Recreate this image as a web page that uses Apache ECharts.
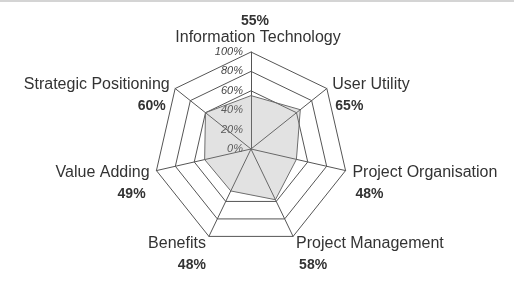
<!DOCTYPE html>
<html>
<head>
<meta charset="utf-8">
<title>Radar</title>
<script src="https://cdn.jsdelivr.net/npm/echarts@6/dist/echarts.min.js"></script>
<style>
    body { margin: 0; background: #fff; }
    #container { width: 514px; height: 284px; box-sizing: border-box; border-top: 2px solid #d4d4d4; }
</style>
</head>
<body>
<div id="container"></div>
<script>
    // indicator names, clockwise from the top
    var names = ['Information Technology', 'User Utility', 'Project Organisation', 'Project Management',
        'Benefits', 'Value Adding', 'Strategic Positioning'];
    var scores = [55, 65, 48, 58, 48, 49, 60];
    var ringLabels = ['0%', '20%', '40%', '60%', '80%', '100%'];

    var dom = document.getElementById('container');
    var myChart = echarts.init(dom, null, { renderer: 'canvas' });

    // radar goes counter-clockwise, so keep the first one on top and reverse the rest
    var order = [0];
    for (let i = names.length - 1; i > 0; i--) order.push(i);

    var indicators = [];
    var values = [];
    for (let k = 0; k < order.length; k++) {
        let i = order[k];
        let ind = { name: names[i], min: 0, max: 100 };
        if (i == 0) {
            // only the top axis carries the ring labels
            ind.axisLabel = {
                show: true,
                fontSize: 11,
                fontStyle: 'italic',
                fontFamily: 'Liberation Sans',
                color: '#444',
                margin: 8,
                formatter: function (v) { return ringLabels[Math.round(v / 20)]; }
            };
        }
        indicators.push(ind);
        values.push(scores[i]);
    }

    var option = {
        animation: false,
        radar: {
            center: [251, 147],
            radius: 97,
            startAngle: 90,
            shape: 'polygon',
            splitNumber: 5,
            nameGap: 7,
            indicator: indicators,
            axisName: {
                color: '#333',
                fontFamily: 'Liberation Sans',
                formatter: function (name) {
                    let i = names.indexOf(name);
                    if (i == 0) return '{tp|' + scores[i] + '%}\n{t|' + name + '}';
                    if (i >= 5) return '{e|}\n{n|' + name + '}\n{pl|' + scores[i] + '%}';
                    return '{e|}\n{n|' + name + '}\n{p|' + scores[i] + '%}';
                },
                rich: {
                    n: { fontSize: 16, lineHeight: 22, color: '#333', fontFamily: 'Liberation Sans' },
                    t: { fontSize: 16, lineHeight: 14, color: '#333', fontFamily: 'Liberation Sans', padding: [0, 0, 0, 14] },
                    tp: { fontSize: 14, lineHeight: 20, fontWeight: 'bold', color: '#333', fontFamily: 'Liberation Sans', padding: [0, 0, 0, 8] },
                    p: { fontSize: 14, lineHeight: 21, fontWeight: 'bold', color: '#333', fontFamily: 'Liberation Sans', padding: [0, 0, 0, 3] },
                    pl: { fontSize: 14, lineHeight: 21, fontWeight: 'bold', color: '#333', fontFamily: 'Liberation Sans', padding: [0, 4, 0, 0] },
                    e: { fontSize: 14, lineHeight: 22 }
                }
            },
            axisLabel: { show: false },
            axisLine: { lineStyle: { color: '#555', width: 1 } },
            splitLine: {
                lineStyle: {
                    color: ['rgba(0,0,0,0)', 'rgba(0,0,0,0)', 'rgba(0,0,0,0)', '#555', '#555', '#555'],
                    width: 1
                }
            },
            splitArea: { show: false }
        },
        series: [{
            type: 'radar',
            symbol: 'none',
            data: [{ value: values, name: 'Score' }],
            lineStyle: { color: '#666', width: 1 },
            areaStyle: { color: 'rgba(150,150,150,0.4)' }
        }]
    };
    myChart.setOption(option);
</script>
</body>
</html>
